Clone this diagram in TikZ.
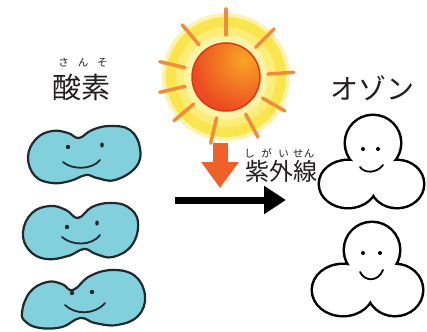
\documentclass[tikz,border=0pt]{standalone}
\usepackage{fontspec}
\newfontfamily\jp{Noto Sans CJK JP}
\usetikzlibrary{arrows.meta}

\definecolor{ink}{HTML}{231F20}
\definecolor{oxyfill}{HTML}{82D0DC}
\definecolor{oxyline}{HTML}{1E2A30}
\definecolor{glow}{HTML}{FBE54E}
\definecolor{glowmid}{HTML}{FCEC78}
\definecolor{glowpale}{HTML}{FDF3A6}
\definecolor{raycol}{HTML}{F08C3A}
\definecolor{sunred}{HTML}{EC4B22}
\definecolor{sunorange}{HTML}{F8A525}
\definecolor{sunedge}{HTML}{D8391A}
\definecolor{uvorange}{HTML}{F0602B}

\tikzset{
  jptext/.style={text=ink, inner sep=0pt, anchor=center},
  bigword/.style={jptext, font=\jp\fontsize{#1}{#1}\selectfont},
  rubyword/.style={jptext, font=\jp\fontsize{10.5}{10.5}\selectfont},
  oxygen/.style={fill=oxyfill, draw=oxyline, line width=2.2pt, line join=round},
  face/.style={draw=oxyline, line width=1.8pt, line cap=round},
  eye/.style={fill=oxyline},
  ozoneedge/.style={draw=black, line width=5pt},
  ozonebody/.style={fill=white},
  ozoneface/.style={draw=black, line width=1.8pt, line cap=round},
  ray/.style={draw=raycol, line width=3.5pt, line cap=round},
  uvarrow/.style={draw=uvorange, line width=15pt, -{Triangle[length=26pt,width=36pt]}},
  reaction/.style={draw=black, line width=7pt, -{Triangle[length=22pt,width=27pt]}},
}

\begin{document}
\begin{tikzpicture}[x=1pt, y=-1pt]
  \useasboundingbox (0,0) rectangle (427,331);
  \fill[white] (0,0) rectangle (427,331);

  % ---- sun ----
  \coordinate (sun) at (226,77);
  \fill[glow!45!white] (sun) circle (64);
  \fill[glow] (sun) circle (60);
  \fill[glowmid] (sun) circle (50);
  \fill[glowpale] (sun) circle (42);
  \foreach \a in {90,45,4,-30,-62,-103,-140,-167,167,130}
    \draw[ray] ([shift={(-\a:42)}]sun) -- ([shift={(-\a:68)}]sun);
  \begin{scope}
    \clip (sun) circle (34);
    \fill[sunred] (sun) circle (34);
    \shade[inner color=sunorange, outer color=sunred] (244,60) circle (52);
  \end{scope}
  \draw[sunedge, line width=1.5pt] (sun) circle (34);

  % ---- ultraviolet arrow ----
  \coordinate (uvtop) at (220,143);
  \coordinate (uvtip) at (220,188);
  \draw[uvarrow] (uvtop) -- (uvtip);

  % ---- reaction arrow ----
  \coordinate (reacL) at (175,200);
  \coordinate (reacR) at (286,200);
  \draw[reaction] (reacL) -- (reacR);

  % ---- labels ----
  \node[bigword=29] (sanso) at (81,87) {酸素};
  \node[rubyword] (sansoruby) at (83,63) {さ\hspace{9pt}ん\hspace{9pt}そ};
  \node[bigword=24] (shigaisen) at (281.5,171) {紫外線};
  \node[rubyword] (rshi) at (249.5,153.5) {し};
  \node[rubyword] (rga)  at (266.5,153.5) {が};
  \node[rubyword] (ri)   at (283.5,153.5) {い};
  \node[rubyword] (rse)  at (298,153.5) {せ};
  \node[rubyword] (rn)   at (309,153.5) {ん};
  \node[bigword=28] (ozon) at (372.5,88.5) {オゾン};

  % ---- oxygen molecules ----
  \path[oxygen] plot[smooth cycle, tension=0.7] coordinates {
    (28,157) (36,139) (52,131) (68,133) (79,138) (92,130) (110,126) (130,130)
    (140,148) (136,167) (115,180) (97,178) (86,175) (70,181) (52,183) (35,176)};
  \fill[eye] (68,147) circle (2.2);
  \fill[eye] (102,145) ellipse (1.8 and 2.6);
  \draw[face] (63,162) .. controls (72,170) and (92,170) .. (100,160);

  \path[oxygen] plot[smooth cycle, tension=0.7] coordinates {
    (23,232) (32,213) (50,206) (66,210) (78,218) (92,207) (110,203) (128,207)
    (138,222) (132,245) (113,257) (96,254) (84,249) (68,256) (46,259) (29,250)};
  \fill[eye] (67,227) circle (2.2);
  \fill[eye] (97,223) ellipse (1.8 and 2.6);
  \draw[face] (62,237) .. controls (72,246) and (92,246) .. (100,235);

  \path[oxygen] plot[smooth cycle, tension=0.7] coordinates {
    (22,312) (30,292) (47,282) (62,284) (73,290) (90,276) (113,270) (135,276)
    (145,296) (138,316) (117,325) (95,323) (80,318) (62,327) (40,328) (26,322)};
  \fill[eye] (72,293) circle (2.2);
  \fill[eye] (92,292) circle (2.2);
  \draw[face] (65,305) .. controls (75,315) and (95,315) .. (105,303);

  % ---- ozone molecules: thick outline of the three lobes, then a white body on top ----
  \path[ozoneedge] (373,143) circle (27) (348,184) ellipse (28 and 23) (397,184) ellipse (26 and 23);
  \path[ozonebody] (373,143) circle (27) (348,184) ellipse (28 and 23) (397,184) ellipse (26 and 23)
    (372,172) ellipse (10 and 7);
  \fill (363,149) circle (2);
  \fill (378,149) circle (2);
  \draw[ozoneface] (360,167) .. controls (365,174) and (377,173) .. (383,165);

  \path[ozoneedge] (372,250) circle (27) (343,290) ellipse (30 and 25) (395,290) ellipse (27 and 25);
  \path[ozonebody] (372,250) circle (27) (343,290) ellipse (30 and 25) (395,290) ellipse (27 and 25)
    (371,279) ellipse (10 and 7);
  \fill (363,253) circle (2);
  \fill (380,253) circle (2);
  \draw[ozoneface] (360,272) .. controls (365,282) and (378,282) .. (383,270);
\end{tikzpicture}
\end{document}
